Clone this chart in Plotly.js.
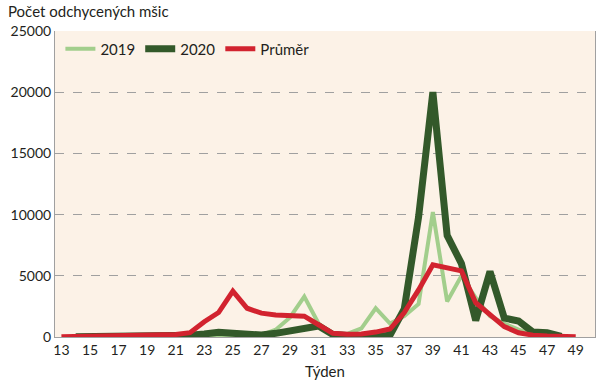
<!DOCTYPE html>
<html>
<head>
<meta charset="utf-8">
<script src="https://cdn.plot.ly/plotly-3.0.1.min.js"></script>
<style>html,body{margin:0;padding:0;background:#fff;}#chart{width:600px;height:384px;}</style>
</head>
<body>
<div id="chart"></div>
<script>
const weeks = [13,14,15,16,17,18,19,20,21,22,23,24,25,26,27,28,29,30,31,32,33,34,35,36,37,38,39,40,41,42,43,44,45,46,47,48,49];
const tickWeeks = [13,15,17,19,21,23,25,27,29,31,33,35,37,39,41,43,45,47,49];
const y2019 = [null,10,10,10,20,20,30,30,40,60,80,100,100,100,150,600,1600,3300,1100,300,250,700,2350,1100,1700,2700,10200,2900,5000,3200,1700,1100,600,250,100,50,null];
const y2020 = [null,20,20,30,40,50,80,80,100,150,250,380,300,220,160,300,490,630,900,200,80,50,50,150,2300,9800,20000,8300,6000,1350,5350,1550,1300,400,350,50,null];
const yAvg = [30,40,50,50,60,80,100,120,200,350,1250,2000,3750,2350,1950,1800,1700,1700,1000,300,220,250,400,650,2000,3850,5900,5700,5400,2800,1800,850,350,150,80,30,20];
const names = ['2019','2020','Průměr'];

const font = 'Lato, "Open Sans", sans-serif';
const traces = [
  {x: weeks, y: y2019, name: names[0], mode: 'lines', line: {color: '#A2CE8C', width: 4}},
  {x: weeks, y: y2020, name: names[1], mode: 'lines', line: {color: '#33592A', width: 7}},
  {x: weeks, y: yAvg, name: names[2], mode: 'lines', line: {color: '#D2232F', width: 5}}
];
const layout = {
  width: 600, height: 384,
  margin: {l: 55, r: 5, t: 31, b: 47},
  paper_bgcolor: '#ffffff',
  plot_bgcolor: '#FCF2E7',
  font: {family: font, size: 14, color: '#231F20'},
  showlegend: true,
  legend: {orientation: 'h', x: 0.01, y: 0.995, xanchor: 'left', yanchor: 'top',
           bgcolor: 'rgba(0,0,0,0)', font: {family: font, size: 15, color: '#231F20'},
           itemwidth: 30, tracegroupgap: 0},
  xaxis: {
    range: [12.55, 50.35], tickvals: tickWeeks, ticktext: tickWeeks.map(String),
    showgrid: false, zeroline: false, showline: true, linecolor: '#A0A0A0', linewidth: 1,
    ticks: '', tickfont: {family: font, size: 14}, fixedrange: true,
    title: {text: 'Týden', font: {family: font, size: 15}, standoff: 9}
  },
  yaxis: {
    range: [0, 25000], tickvals: [0,5000,10000,15000,20000,25000], tickformat: 'd',
    showgrid: true, gridcolor: '#A0A0A0', griddash: 'dash', gridwidth: 1,
    zeroline: false, showline: true, linecolor: '#A0A0A0', linewidth: 1, mirror: true,
    ticks: '', tickfont: {family: font, size: 14}, fixedrange: true
  },
  annotations: [{
    text: 'Počet odchycených mšic', xref: 'paper', yref: 'paper',
    x: -0.09, y: 1.0, xanchor: 'left', yanchor: 'bottom', yshift: 9, showarrow: false,
    font: {family: font, size: 15, color: '#231F20'}
  }]
};
Plotly.newPlot('chart', traces, layout, {displayModeBar: false, staticPlot: true});
</script>
</body>
</html>
